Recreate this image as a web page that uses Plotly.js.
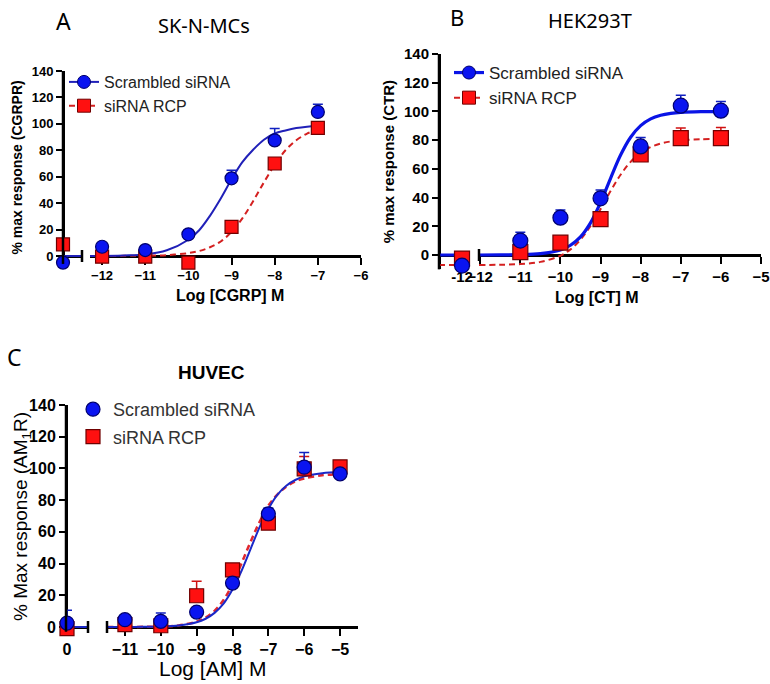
<!DOCTYPE html>
<html><head><meta charset="utf-8">
<script src="https://cdn.plot.ly/plotly-3.0.1.min.js"></script>
<style>html,body{margin:0;padding:0;background:#fff}#chart{width:770px;height:684px}</style>
</head><body><div id="chart"></div>
<script>
// ================= DATA =================
const seriesNames = ['Scrambled siRNA', 'siRNA RCP'];
const yTicks = [0, 20, 40, 60, 80, 100, 120, 140];

// ---- Panel A: SK-N-MCs, Log [CGRP] M ----
const A_doses   = [-12, -11, -10, -9, -8, -7];
const A_xTicks  = [-12, -11, -10, -9, -8, -7, -6];
const A_scr     = [7, 4.5, 16.4, 58.8, 87.5, 109];
const A_scrErr  = [0, 0, 0, 6, 9, 5.8];
const A_rcp     = [-0.5, -0.5, -5, 22, 70, 97];
const A_rcpErr  = [0, 0, 0, 0, 4.4, 0];
const A_ctrlX   = [0];
const A_scrCtrl = [-5];
const A_rcpCtrl = [8.8];
const A_fitX    = [-12.28, -11.5, -11, -10.5, -10, -9.75, -9.5, -9.25, -9, -8.75, -8.5, -8.25, -8, -7.75, -7.5, -7.25, -7];
const A_scrFit  = [0, 0.4, 1.2, 4.3, 12.3, 19.5, 30.4, 43.5, 58, 71, 80.4, 88, 92.7, 95, 96.8, 97.8, 98.3];
const A_rcpFit  = [0, 0.1, 0.2, 0.7, 2.2, 3.8, 6.6, 11, 18.3, 28.5, 41.5, 55.7, 69, 80, 87.6, 92.6, 95.7];
const A_scrFitCtrl = [0, 0];

// ---- Panel B: HEK293T, Log [CT] M ----
const B_doses   = [-11, -10, -9, -8, -7, -6];
const B_xTicks  = [-12, -11, -10, -9, -8, -7, -6, -5];
const B_scr     = [10, 26, 39.5, 75.6, 104, 100.5];
const B_scrErr  = [5.8, 5.4, 5.8, 6.3, 7.2, 6.5];
const B_rcp     = [2, 8.6, 25, 70, 81.4, 81.4];
const B_rcpErr  = [0, 0, 0, 0, 7, 7.4];
const B_ctrlX   = [0];
const B_ctrlLabel = ['-12'];
const B_scrCtrl = [-7.4];
const B_rcpCtrl = [-2.5];
const B_fitX    = [-12.03, -11.5, -11, -10.5, -10, -9.75, -9.5, -9.25, -9, -8.75, -8.5, -8.25, -8, -7.75, -7.5, -7.25, -7, -6.5, -6];
const B_scrFit  = [0, 0.1, 0.2, 0.9, 3.5, 6.8, 12.6, 22.4, 36.5, 53.4, 69.6, 82, 90.1, 94.8, 97.3, 98.6, 99.3, 99.8, 99.9];
const B_rcpFit  = [-6.9, -6.8, -6.3, -4.8, -0.5, 3.9, 10.7, 20.2, 31.9, 44.5, 55.9, 64.9, 71.1, 75.2, 77.6, 79.1, 79.9, 80.6, 80.9];
const B_scrFitCtrl = [0, 0];
const B_rcpFitCtrl = [-6.9, -6.9];

// ---- Panel C: HUVEC, Log [AM] M ----
const C_doses   = [-11, -10, -9, -8, -7, -6, -5];
const C_xTicks  = [-11, -10, -9, -8, -7, -6, -5];
const C_scr     = [4.6, 3.6, 9.4, 27.7, 71.4, 100.8, 96.6];
const C_scrErr  = [0, 5.2, 0, 0, 3.6, 9.2, 0];
const C_rcp     = [1.5, 0.8, 19.7, 36, 65.5, 99.7, 101];
const C_rcpErr  = [0, 0, 9.1, 0, 0, 7.8, 1.5];
const C_ctrlX   = [0];
const C_ctrlLabel = ['0'];
const C_scrCtrl = [2.5];
const C_scrCtrlErr = [8];
const C_rcpCtrl = [-1];
const C_fitX    = [-11.5, -11, -10.5, -10, -9.5, -9, -8.75, -8.5, -8.25, -8, -7.75, -7.5, -7.25, -7, -6.75, -6.5, -6.25, -6, -5.5, -5];
const C_scrFit  = [0, 0, 0.1, 0.3, 1, 3, 5.2, 8.9, 14.7, 23.6, 35.3, 49, 62.7, 74.4, 83.3, 89.1, 92.7, 95, 97, 97.7];
const C_rcpFit  = [0, 0, 0.1, 0.3, 1, 3.4, 5.9, 10.2, 17, 27, 40, 53.5, 66, 76.5, 83.5, 88.5, 91.8, 93.7, 95.7, 96.3];
const C_scrFitCtrl = [0, 0];

// ================= STYLE / GEOMETRY =================
const W = 770, H = 684;
const F = 'Liberation Sans, Arial, sans-serif';
const FC = 'Noto Sans, Open Sans, sans-serif';
const px = v => v / W;
const py = v => 1 - v / H;
function yDom(topPx, zeroPx, ymin) {
  const s = (zeroPx - topPx) / 140;
  return [py(zeroPx - ymin * s), py(topPx)];
}
const blueFill = '#0a14f0', blueEdge = '#00006e';
const redFill = '#ff1010', redEdge = '#700000';
const axBase = {showline: true, linecolor: '#000', linewidth: 2.5, ticks: 'outside', tickcolor: '#000',
  tickwidth: 2, showgrid: false, zeroline: false, fixedrange: true, layer: 'below traces'};
const bold = (s) => ({family: F, size: s, color: '#000', weight: 'bold'});

// Panel geometry (pixels)
const G = {
  A: {yTop: 71, yZero: 256, yMin: -6, seg1: [63, 82], seg1Range: [0, 1], seg2: [90, 361], seg2Range: [-12.28, -6]},
  B: {yTop: 54, yZero: 255, yMin: -10, seg1: [439, 467], seg1Range: [-1, 0.217], seg2: [479, 761], seg2Range: [-12.03, -5]},
  C: {yTop: 405, yZero: 627, yMin: -3, seg1: [66, 88], seg1Range: [-0.05, 1.05], seg2: [107, 358], seg2Range: [-11.5, -4.5]}
};

function curve(x, y, xa, ya, isScr, lw, color, legendId, show) {
  return {
    type: 'scatter', mode: show ? 'lines+markers' : 'lines', x: x, y: y, xaxis: xa, yaxis: ya,
    line: {color: color, width: lw, shape: 'spline', smoothing: 1, dash: isScr ? 'solid' : '6px,4px'},
    marker: {symbol: isScr ? 'circle' : 'square', size: 13, color: isScr ? blueFill : redFill,
      line: {color: isScr ? blueEdge : redEdge, width: 1}},
    selectedpoints: [], unselected: {marker: {opacity: 0}},
    name: isScr ? seriesNames[0] : seriesNames[1], legend: legendId, legendrank: isScr ? 1 : 2,
    showlegend: !!show, hoverinfo: 'skip', cliponaxis: true
  };
}
function points(x, y, err, xa, ya, isScr, size, legendId, show) {
  const t = {
    type: 'scatter', mode: 'markers', x: x, y: y, xaxis: xa, yaxis: ya, cliponaxis: false,
    marker: {symbol: isScr ? 'circle' : 'square', size: size, color: isScr ? blueFill : redFill,
      line: {color: isScr ? blueEdge : redEdge, width: 1.2}},
    name: isScr ? seriesNames[0] : seriesNames[1], legend: legendId, legendrank: isScr ? 1 : 2,
    legendgroup: legendId + (isScr ? 's' : 'r'),
    showlegend: !!show, hoverinfo: 'skip'
  };
  if (err) {
    t.error_y = {type: 'data', symmetric: false, array: err, arrayminus: err.map(() => 0),
      color: isScr ? '#1020c0' : '#d01010', thickness: 1.5, width: 5};
  }
  return t;
}

const traces = [
  // Panel A
  curve(G.A.seg1Range, A_scrFitCtrl, 'x', 'y', true, 2, '#2020b8', 'legend', false),
  curve(A_fitX, A_rcpFit, 'x2', 'y', false, 2, '#d42020', 'legend', true),
  curve(A_fitX, A_scrFit, 'x2', 'y', true, 2, '#2020b8', 'legend', true),
  points(A_ctrlX, A_rcpCtrl, null, 'x', 'y', false, 13, 'legend', false),
  points(A_ctrlX, A_scrCtrl, null, 'x', 'y', true, 13, 'legend', false),
  points(A_doses, A_rcp, A_rcpErr, 'x2', 'y', false, 13, 'legend', false),
  points(A_doses, A_scr, A_scrErr, 'x2', 'y', true, 13, 'legend', false),
  // Panel B
  curve(G.B.seg1Range, B_rcpFitCtrl, 'x3', 'y2', false, 2, '#d42020', 'legend2', false),
  curve(G.B.seg1Range, B_scrFitCtrl, 'x3', 'y2', true, 3.2, '#0a14e6', 'legend2', false),
  curve(B_fitX, B_rcpFit, 'x4', 'y2', false, 2, '#d42020', 'legend2', true),
  curve(B_fitX, B_scrFit, 'x4', 'y2', true, 3.2, '#0a14e6', 'legend2', true),
  points(B_ctrlX, B_rcpCtrl, null, 'x3', 'y2', false, 15, 'legend2', false),
  points(B_ctrlX, B_scrCtrl, null, 'x3', 'y2', true, 15, 'legend2', false),
  points(B_doses, B_rcp, B_rcpErr, 'x4', 'y2', false, 15, 'legend2', false),
  points(B_doses, B_scr, B_scrErr, 'x4', 'y2', true, 15, 'legend2', false),
  // Panel C
  curve(G.C.seg1Range, C_scrFitCtrl, 'x5', 'y3', true, 2, '#1a28c8', 'legend3', false),
  curve(C_fitX, C_rcpFit, 'x6', 'y3', false, 2.5, '#e0282f', 'legend3', false),
  curve(C_fitX, C_scrFit, 'x6', 'y3', true, 2, '#1a28c8', 'legend3', false),
  points(C_ctrlX, C_rcpCtrl, null, 'x5', 'y3', false, 14, 'legend3', false),
  points(C_ctrlX, C_scrCtrl, C_scrCtrlErr, 'x5', 'y3', true, 14, 'legend3', false),
  points(C_doses, C_rcp, C_rcpErr, 'x6', 'y3', false, 14, 'legend3', true),
  points(C_doses, C_scr, C_scrErr, 'x6', 'y3', true, 14, 'legend3', true)
];

function xSeg(g, which, tickvals, ticktext, fs, showTicks) {
  const dom = which === 1 ? g.seg1 : g.seg2;
  const ax = Object.assign({}, axBase, {
    domain: [px(dom[0]), px(dom[1])], range: which === 1 ? g.seg1Range : g.seg2Range,
    anchor: 'free', position: py(g.yZero), ticklen: 7, tickvals: tickvals, tickfont: bold(fs)
  });
  if (ticktext) ax.ticktext = ticktext;
  if (!showTicks) { ax.ticks = ''; ax.showticklabels = false; }
  return ax;
}
function yAx(g, fs, title, tfont, standoff) {
  const ax = Object.assign({}, axBase, {
    domain: yDom(g.yTop, g.yZero, g.yMin), range: [g.yMin, 140], anchor: 'free', position: px(g.seg1[0]),
    tickvals: yTicks, ticklen: 6, tickfont: bold(fs)
  });
  if (title) ax.title = {text: title, font: tfont, standoff: standoff};
  return ax;
}
// axis break bars (decoration at segment ends)
function breakBar(xref, xv, g) {
  return {type: 'line', xref: xref, yref: 'paper', x0: xv, x1: xv,
    y0: py(g.yZero + 6), y1: py(g.yZero - 6), line: {color: '#000', width: 2.5}};
}
// vertical axis spine at the y-axis position, spanning the y-axis domain
function ySpine(g) {
  const d = yDom(g.yTop, g.yZero, g.yMin);
  return {type: 'line', xref: 'paper', yref: 'paper', x0: px(g.seg1[0]), x1: px(g.seg1[0]),
    y0: d[0], y1: d[1], line: {color: '#000', width: 2.5}};
}
function ann(text, x, y, font, extra) {
  return Object.assign({text: text, xref: 'paper', yref: 'paper', x: px(x), y: py(y),
    xanchor: 'center', yanchor: 'middle', showarrow: false, font: font}, extra || {});
}

const layout = {
  width: W, height: H, margin: {l: 0, r: 0, t: 0, b: 0},
  paper_bgcolor: '#fff', plot_bgcolor: 'rgba(0,0,0,0)', hovermode: false,
  xaxis:  xSeg(G.A, 1, [0.5], null, 13, false),
  xaxis2: xSeg(G.A, 2, A_xTicks, null, 13, true),
  yaxis:  yAx(G.A, 13, '% max response (CGRPR)', bold(14), 5),
  xaxis3: xSeg(G.B, 1, B_ctrlX, B_ctrlLabel, 15, true),
  xaxis4: xSeg(G.B, 2, B_xTicks, null, 15, true),
  yaxis2: yAx(G.B, 15, '% max response (CTR)', bold(15), 4),
  xaxis5: xSeg(G.C, 1, C_ctrlX, C_ctrlLabel, 16, true),
  xaxis6: xSeg(G.C, 2, C_xTicks, null, 16, true),
  yaxis3: yAx(G.C, 16, null),
  legend:  {x: px(64), y: py(65), xanchor: 'left', yanchor: 'top', bgcolor: 'rgba(0,0,0,0)',
            font: {family: F, size: 16, color: '#222'}, traceorder: 'normal'},
  legend2: {x: px(449), y: py(55), xanchor: 'left', yanchor: 'top', bgcolor: 'rgba(0,0,0,0)',
            font: {family: F, size: 17, color: '#222'}, traceorder: 'normal'},
  legend3: {x: px(73), y: py(391), xanchor: 'left', yanchor: 'top', bgcolor: 'rgba(0,0,0,0)',
            font: {family: F, size: 18, color: '#333'}, traceorder: 'grouped', tracegroupgap: 1},
  shapes: [
    ySpine(G.A),
    ySpine(G.B),
    ySpine(G.C),
    breakBar('x domain', 1, G.A),
    breakBar('x4 domain', 0, G.B),
    breakBar('x5 domain', 1, G.C),
    breakBar('x6 domain', 0, G.C)
  ],
  annotations: [
    ann('A', 63, 21, {family: FC, size: 23, color: '#000'}),
    ann('SK-N-MCs', 204, 25, {family: FC, size: 20, color: '#000'}),
    ann('B', 457, 17, {family: FC, size: 22, color: '#000'}),
    ann('HEK293T', 590, 21, {family: FC, size: 20, color: '#000'}),
    ann('C', 14, 357, {family: FC, size: 23, color: '#000'}),
    ann('HUVEC', 212, 372, bold(19)),
    ann('% Max response (AM<sub>1</sub>R)', 22, 517, {family: F, size: 19, color: '#000'}, {textangle: -90}),
    ann('Log [CGRP] M', 230, 295, bold(16)),
    ann('Log [CT] M', 597, 298, bold(16)),
    ann('Log [AM] M', 213, 668, {family: F, size: 21, color: '#000'})
  ]
};

Plotly.newPlot('chart', traces, layout, {staticPlot: true, displayModeBar: false});
</script>
</body></html>
